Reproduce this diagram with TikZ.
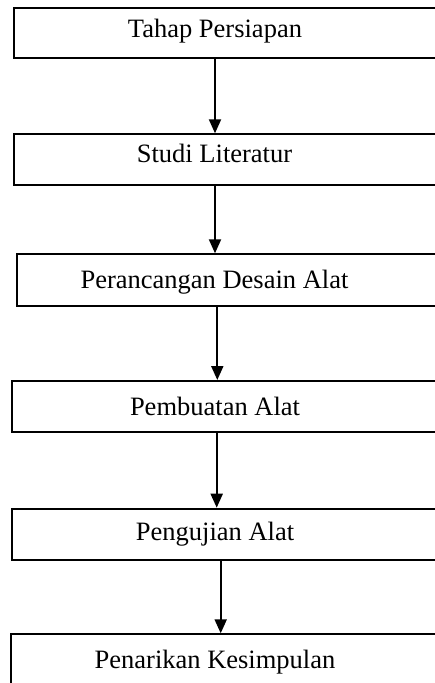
\documentclass[tikz,border=0pt]{standalone}
\usepackage{fontspec}
\setmainfont{Liberation Serif}
\usetikzlibrary{arrows.meta}
\begin{document}
\begin{tikzpicture}[x=1pt,y=-1pt,
  box/.style={draw=black, line width=2pt, rectangle, inner sep=0pt, outer sep=0pt, anchor=north west},
  lbl/.style={anchor=base, inner sep=0pt, font=\fontsize{26.5}{30}\selectfont},
  arr/.style={draw=black, line width=2pt, -{Triangle[width=12pt,length=14pt]}, shorten >=1pt}]
\useasboundingbox (0,0) rectangle (434,683);
\fill[white] (0,0) rectangle (434,683);
% boxes (right edges run past the page)
\node[box, minimum width=426.3pt, minimum height=49.4pt] (b1) at (13.7,8.3) {};
\node[box, minimum width=426.3pt, minimum height=51pt] (b2) at (13.7,134.3) {};
\node[box, minimum width=423pt, minimum height=51.4pt] (b3) at (17,254.3) {};
\node[box, minimum width=428pt, minimum height=50.7pt] (b4) at (12,381) {};
\node[box, minimum width=428pt, minimum height=51.3pt] (b5) at (12,508.7) {};
\node[box, minimum width=429pt, minimum height=56pt] (b6) at (11,634.3) {};
% labels
\node[lbl] (t1) at (215,37.3) {Tahap Persiapan};
\node[lbl] (t2) at (214.5,162.7) {Studi Literatur};
\node[lbl] (t3) at (214.5,288.3) {Perancangan Desain Alat};
\node[lbl] (t4) at (215,415) {Pembuatan Alat};
\node[lbl] (t5) at (215,540) {Pengujian Alat};
\node[lbl] (t6) at (215,668.3) {Penarikan Kesimpulan};
% arrows
\draw[arr] (t1.base |- b1.south) -- (t1.base |- b2.north);
\draw[arr] ([xshift=0.5pt]t2.base |- b2.south) -- ([xshift=0.5pt]t2.base |- b3.north);
\draw[arr] ([xshift=2.8pt]t3.base |- b3.south) -- ([xshift=2.8pt]t3.base |- b4.north);
\draw[arr] ([xshift=1.7pt]t4.base |- b4.south) -- ([xshift=1.7pt]t4.base |- b5.north);
\draw[arr] ([xshift=5.7pt]t5.base |- b5.south) -- ([xshift=5.7pt]t5.base |- b6.north);
\end{tikzpicture}
\end{document}
